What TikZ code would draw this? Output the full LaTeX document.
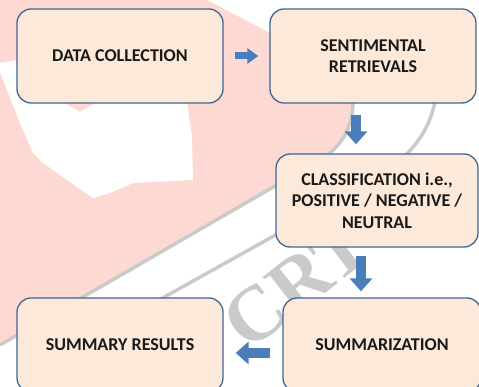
\documentclass[tikz,border=0pt]{standalone}
\usepackage{fontspec}
\setmainfont{Carlito}
\newfontfamily\markfont{Liberation Serif}
\usetikzlibrary{arrows.meta}

\definecolor{boxfill}{HTML}{FDE9D9}
\definecolor{boxline}{HTML}{41668F}
\definecolor{arrowblue}{HTML}{4A7EBB}
\definecolor{markpink}{HTML}{FDD9D3}
\definecolor{markgray}{HTML}{CACACA}

\begin{document}
\begin{tikzpicture}[x=1pt,y=-1pt,
    stage/.style={draw=boxline,line width=1.3pt,fill=boxfill,
      rounded corners=14pt,minimum width=206pt,minimum height=94pt,
      align=center,text=black!90,font=\fontsize{18}{21.5}\selectfont\bfseries},
    flow/.style={draw=arrowblue,line width=9.5pt,
      -{Triangle[width=22pt,length=13pt]}},
    smallflow/.style={flow,line width=7pt,-{Triangle[width=15pt,length=11pt]}}]
  \useasboundingbox (0,0) rectangle (479,387);
  \clip (0,0) rectangle (479,387);

  % background mark
  \fill[markpink] (0,0) -- (207,0) -- (272,34) .. controls (335,62) and (354,80) .. (353,103)
    .. controls (352,130) and (340,148) .. (320,160) -- (0,345) -- cycle;
  \fill[white] (0,63) -- (0,72) -- (7,90) -- (20,123) -- (33,153) -- (43,163) -- (67,180)
    -- (93,198) -- (110,193) -- (133,183) -- (193,180) -- (192,137) -- (186,95) -- (17,60) -- cycle;
  \fill[markpink] (63,102) -- (80,112) -- (97,102) -- cycle;
  \draw[markgray,line width=3.5pt] (353,103) .. controls (352,130) and (340,148) .. (320,160) -- (0,345);
  \draw[markgray,line width=3.5pt] (436,95) .. controls (430,140) and (400,165) .. (360,188) -- (150,305);
  \node[markgray,rotate=38,font=\markfont\fontsize{78}{78}\selectfont\bfseries] (mark) at (297,283) {CRT};

  % stages
  \node[stage] (dc) at (120,56) {DATA COLLECTION};
  \node[stage] (sr) at (373,56) {SENTIMENTAL\\RETRIEVALS};
  \node[stage,minimum width=202pt,minimum height=93pt] (cls) at (377,200.5)
    {CLASSIFICATION i.e.,\\POSITIVE / NEGATIVE /\\NEUTRAL};
  \node[stage,minimum width=198pt] (sum) at (382,345) {SUMMARIZATION};
  \node[stage] (res) at (120,345) {SUMMARY RESULTS};

  \path (dc) edge[smallflow,shorten <=11pt,shorten >=11pt] (sr)
        ([xshift=-17pt,yshift=-11pt]sr.south) edge[flow] ([xshift=-21pt,yshift=9pt]cls.north)
        ([xshift=-16pt,yshift=-8pt]cls.south) edge[flow] ([xshift=-21pt,yshift=6pt]sum.north)
        ([yshift=-8pt]sum.west) edge[flow,shorten <=12pt,shorten >=12pt] ([yshift=-8pt]res.east);
\end{tikzpicture}
\end{document}
